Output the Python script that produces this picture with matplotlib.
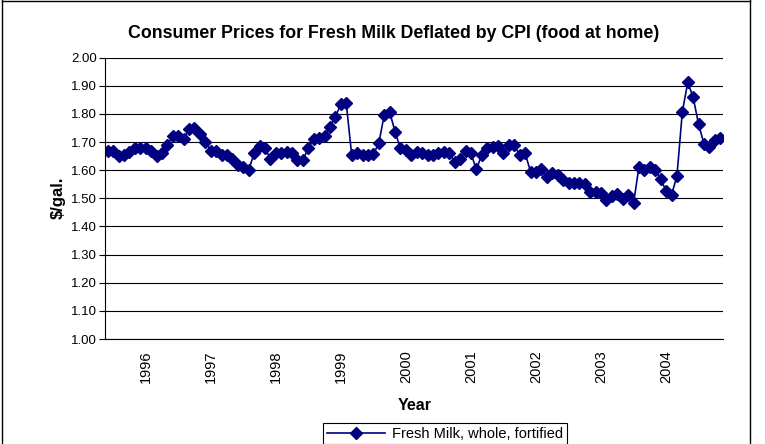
import pandas as pd
import matplotlib
matplotlib.use('Agg')
from matplotlib import pyplot as plt
from matplotlib.lines import Line2D

# monthly series, June 1995 .. November 2004 ($/gal., deflated)
start_month = '1995-06'
prices = [1.67, 1.67, 1.65, 1.655, 1.665, 1.68, 1.68, 1.68, 1.67, 1.65,
          1.66, 1.69, 1.72, 1.72, 1.71, 1.745, 1.75, 1.73, 1.70, 1.67,
          1.67, 1.655, 1.655, 1.64, 1.62, 1.61, 1.60, 1.66, 1.685, 1.68,
          1.64, 1.66, 1.66, 1.665, 1.66, 1.635, 1.635, 1.68, 1.71, 1.715,
          1.72, 1.755, 1.79, 1.835, 1.838, 1.655, 1.66, 1.655, 1.655, 1.657,
          1.695, 1.796, 1.808, 1.737, 1.678, 1.672, 1.655, 1.666, 1.66, 1.655,
          1.655, 1.66, 1.666, 1.66, 1.63, 1.64, 1.669, 1.66, 1.603, 1.654,
          1.678, 1.684, 1.686, 1.66, 1.69, 1.688, 1.654, 1.66, 1.595, 1.595,
          1.603, 1.577, 1.589, 1.583, 1.565, 1.553, 1.556, 1.556, 1.55, 1.524,
          1.524, 1.518, 1.494, 1.508, 1.515, 1.496, 1.512, 1.482, 1.613, 1.601,
          1.613, 1.601, 1.568, 1.527, 1.512, 1.579, 1.808, 1.912, 1.859, 1.763,
          1.693, 1.681, 1.707, 1.713]
series_name = 'Fresh Milk, whole, fortified'
y_ticks = [1.00, 1.10, 1.20, 1.30, 1.40, 1.50, 1.60, 1.70, 1.80, 1.90, 2.00]

months = pd.date_range(start_month, periods=len(prices), freq='MS')
pos = list(range(len(prices)))
year_pos = [i for i, m in enumerate(months) if m.month == 1]
year_lab = [str(months[i].year) for i in year_pos]

plt.rcParams['font.family'] = ['Liberation Sans', 'DejaVu Sans']

W, H = 765, 444
fig = plt.figure(figsize=(W / 100, H / 100), dpi=100)
ax = fig.add_axes([105 / W, 1 - 339 / H, (723 - 105) / W, (339 - 57.7) / H])

navy = '#000080'
ax.plot(pos, prices, color=navy, lw=1.2, marker='D', markersize=5.8,
        markerfacecolor=navy, markeredgecolor=navy, label=series_name)

ax.set_xlim(-0.5, len(prices) - 0.5)
ax.set_ylim(1.0, 2.0)
ax.set_yticks(y_ticks)
ax.set_yticklabels(['%.2f' % v for v in y_ticks], fontsize=9.5)
ax.set_xticks(year_pos)
ax.set_xticklabels(year_lab, rotation=90, fontsize=10.5)
ax.tick_params(axis='x', length=0, pad=8)
ax.tick_params(axis='y', length=4, width=0.8, pad=2)
ax.grid(axis='y', color='black', lw=0.8)
ax.set_axisbelow(True)
for s in ['top', 'right']:
    ax.spines[s].set_visible(False)
for s in ['left', 'bottom']:
    ax.spines[s].set_linewidth(0.8)

fig.text(394 / W, 1 - 33 / H, 'Consumer Prices for Fresh Milk Deflated by CPI (food at home)',
         ha='center', va='center', fontsize=12.8, fontweight='bold')
fig.text(58 / W, 1 - 198 / H, r'\$/gal.', rotation=90, ha='center', va='center',
         fontsize=12, fontweight='bold')
fig.text(415 / W, 1 - 405 / H, 'Year', ha='center', va='center',
         fontsize=11.5, fontweight='bold')

leg = fig.legend(loc='upper center', bbox_to_anchor=(445 / W, 1 - 423 / H),
                 fontsize=10.5, frameon=True, fancybox=False, edgecolor='black',
                 framealpha=1, handlelength=4, borderpad=0.25, handletextpad=0.5,
                 borderaxespad=0)
leg.get_frame().set_linewidth(0.8)

# chart frame
fig.add_artist(Line2D([1.5 / W, 1.5 / W], [0, 1], color='black', lw=1))
fig.add_artist(Line2D([750 / W, 750 / W], [0, 1], color='black', lw=1))
fig.add_artist(Line2D([1.5 / W, 750 / W], [1 - 1 / H, 1 - 1 / H], color='black', lw=1))

fig.savefig('out.png', dpi=100)
